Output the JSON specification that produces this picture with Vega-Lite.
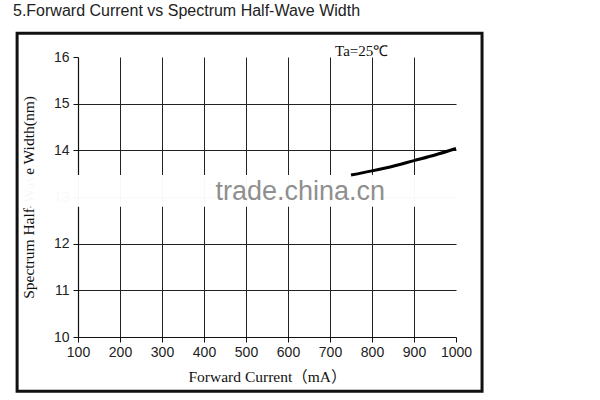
{
  "$schema": "https://vega.github.io/schema/vega-lite/v6.json",
  "width": 378,
  "height": 280,
  "autosize": {"type": "none"},
  "padding": {"left": 78, "top": 57, "right": 144, "bottom": 63},
  "background": "white",
  "title": {
    "text": "5.Forward Current vs Spectrum Half-Wave Width",
    "anchor": "start",
    "frame": "group",
    "dx": -65,
    "font": "Liberation Sans",
    "fontSize": 16,
    "fontWeight": "normal",
    "color": "#222222",
    "offset": 13
  },
  "config": {
    "view": {"stroke": null}
  },
  "datasets": {
    "curve": [
      {"current": 750, "width": 13.47},
      {"current": 800, "width": 13.56},
      {"current": 850, "width": 13.66},
      {"current": 900, "width": 13.78},
      {"current": 950, "width": 13.9},
      {"current": 1000, "width": 14.04}
    ],
    "frame": [{"x1": -45, "x2": 1062, "y1": 16.51, "y2": 8.84}],
    "band": [{"x1": -57, "x2": 1095, "y1": 13.47, "y2": 12.79}],
    "notes": [
      {"current": 712, "width": 16.02, "label": "Ta=25℃"}
    ],
    "watermark": [
      {"current": 629, "width": 12.94, "label": "trade.china.cn"}
    ]
  },
  "layer": [
    {
      "data": {"name": "curve"},
      "mark": {"type": "line", "opacity": 0},
      "encoding": {
        "x": {
          "field": "current",
          "type": "quantitative",
          "scale": {"domain": [100, 1000], "nice": false},
          "axis": {
            "values": [100, 150, 200, 250, 300, 350, 400, 450, 500, 550, 600, 650, 700, 750, 800, 850, 900, 950, 1000],
            "format": "d",
            "labelExpr": "datum.value % 100 == 0 ? datum.label : ''",
            "title": "Forward Current（mA）",
            "titleFont": "Liberation Serif, Noto Sans CJK SC",
            "titleFontSize": 15.5,
            "titleFontWeight": "normal",
            "titleColor": "#111111",
            "titlePadding": 10,
            "labelFont": "Liberation Sans",
            "labelFontSize": 14,
            "labelColor": "#222222",
            "labelPadding": 3,
            "labelFlush": false,
            "domainColor": "#111111",
            "domainWidth": 1.2,
            "tickColor": "#111111",
            "tickSize": {"condition": {"test": "datum.value % 100 != 0", "value": 3}, "value": 5},
            "grid": true,
            "gridColor": "#222222",
            "gridWidth": 1,
            "gridOpacity": {"condition": {"test": "datum.value % 100 != 0 || datum.value == 100 || datum.value == 1000", "value": 0}, "value": 1}
          }
        },
        "y": {
          "field": "width",
          "type": "quantitative",
          "scale": {"domain": [10, 16], "nice": false, "zero": false},
          "axis": {
            "values": [10, 10.5, 11, 11.5, 12, 12.5, 13, 13.5, 14, 14.5, 15, 15.5, 16],
            "labelExpr": "datum.value % 1 == 0 ? datum.label : ''",
            "title": "Spectrum Half-Wave Width(nm)",
            "titleFont": "Liberation Serif",
            "titleFontSize": 15.5,
            "titleFontWeight": "normal",
            "titleColor": "#111111",
            "titlePadding": 17,
            "labelFont": "Liberation Sans",
            "labelFontSize": 14,
            "labelColor": "#222222",
            "labelPadding": 4,
            "labelFlush": false,
            "domainColor": "#111111",
            "domainWidth": 1.2,
            "tickColor": "#111111",
            "tickSize": {"condition": {"test": "datum.value % 1 != 0", "value": 3}, "value": 5},
            "grid": true,
            "gridColor": "#222222",
            "gridWidth": 1,
            "gridOpacity": {"condition": {"test": "datum.value % 1 != 0 || datum.value == 10 || datum.value == 16", "value": 0}, "value": 1}
          }
        }
      }
    },
    {
      "data": {"name": "band"},
      "mark": {"type": "rect", "fill": "white", "opacity": 0.97, "clip": false},
      "encoding": {
        "x": {"field": "x1", "type": "quantitative"},
        "x2": {"field": "x2"},
        "y": {"field": "y1", "type": "quantitative"},
        "y2": {"field": "y2"}
      }
    },
    {
      "data": {"name": "frame"},
      "mark": {"type": "rect", "fill": null, "stroke": "#111111", "strokeWidth": 3, "clip": false},
      "encoding": {
        "x": {"field": "x1", "type": "quantitative"},
        "x2": {"field": "x2"},
        "y": {"field": "y1", "type": "quantitative"},
        "y2": {"field": "y2"}
      }
    },
    {
      "data": {"name": "curve"},
      "mark": {"type": "line", "color": "#000000", "strokeWidth": 3, "interpolate": "monotone"},
      "encoding": {
        "x": {"field": "current", "type": "quantitative"},
        "y": {"field": "width", "type": "quantitative"}
      }
    },
    {
      "data": {"name": "notes"},
      "mark": {"type": "text", "align": "left", "baseline": "alphabetic", "font": "Liberation Serif", "fontSize": 15, "color": "#111111"},
      "encoding": {
        "x": {"field": "current", "type": "quantitative"},
        "y": {"field": "width", "type": "quantitative"},
        "text": {"field": "label"}
      }
    },
    {
      "data": {"name": "watermark"},
      "mark": {"type": "text", "align": "center", "baseline": "alphabetic", "font": "Liberation Sans", "fontSize": 27, "color": "#8f8f8f"},
      "encoding": {
        "x": {"field": "current", "type": "quantitative"},
        "y": {"field": "width", "type": "quantitative"},
        "text": {"field": "label"}
      }
    }
  ]
}
